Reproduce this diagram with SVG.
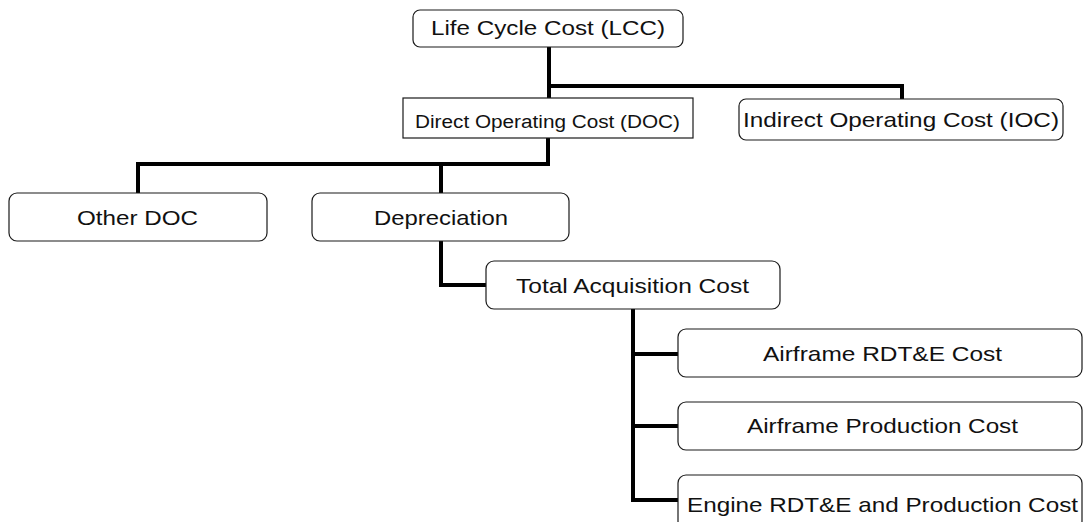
<svg xmlns="http://www.w3.org/2000/svg" width="1083" height="522" viewBox="0 0 1083 522">
  <style>
    .box { fill: #ffffff; stroke: #1a1a1a; stroke-width: 1.2; }
    .lbl { font-family: "Liberation Sans", Arial, sans-serif; font-size: 21px; fill: #111111; text-anchor: middle; }
    .small { font-size: 18px; }
    .wire { fill: none; stroke: #000000; stroke-width: 4; stroke-linejoin: miter; stroke-linecap: butt; }
  </style>
  <rect width="1083" height="522" fill="#ffffff"/>

  <!-- tree connectors -->
  <g id="connectors">
    <polyline class="wire" points="549,47 549,98"/>
    <polyline class="wire" points="549,86 902,86 902,99"/>
    <polyline class="wire" points="548,138 548,164 138,164 138,193"/>
    <polyline class="wire" points="441,164 441,193"/>
    <polyline class="wire" points="441,241 441,285 486,285"/>
    <polyline class="wire" points="633,309 633,500 678,500"/>
    <polyline class="wire" points="633,354 678,354"/>
    <polyline class="wire" points="633,426 678,426"/>
  </g>

  <g id="lcc">
    <rect class="box" x="413" y="10" width="270" height="37" rx="7"/>
    <text class="lbl" x="548" y="35" textLength="234" lengthAdjust="spacingAndGlyphs">Life Cycle Cost (LCC)</text>
  </g>

  <g id="doc">
    <rect class="box" x="403" y="98" width="290" height="40"/>
    <text class="lbl small" x="547.5" y="128" textLength="265" lengthAdjust="spacingAndGlyphs">Direct Operating Cost (DOC)</text>
  </g>

  <g id="ioc">
    <rect class="box" x="739" y="99" width="324" height="41" rx="7"/>
    <text class="lbl" x="901" y="127" textLength="316" lengthAdjust="spacingAndGlyphs">Indirect Operating Cost (IOC)</text>
  </g>

  <g id="other-doc">
    <rect class="box" x="9" y="193" width="258" height="48" rx="8"/>
    <text class="lbl" x="137.5" y="225" textLength="121" lengthAdjust="spacingAndGlyphs">Other DOC</text>
  </g>

  <g id="depreciation">
    <rect class="box" x="312" y="193" width="257" height="48" rx="8"/>
    <text class="lbl" x="441" y="225" textLength="134" lengthAdjust="spacingAndGlyphs">Depreciation</text>
  </g>

  <g id="total-acquisition">
    <rect class="box" x="486" y="261" width="294" height="48" rx="8"/>
    <text class="lbl" x="632.5" y="293" textLength="233" lengthAdjust="spacingAndGlyphs">Total Acquisition Cost</text>
  </g>

  <g id="airframe-rdte">
    <rect class="box" x="678" y="329" width="404" height="48" rx="8"/>
    <text class="lbl" x="882.5" y="361" textLength="239" lengthAdjust="spacingAndGlyphs">Airframe RDT&amp;E Cost</text>
  </g>

  <g id="airframe-production">
    <rect class="box" x="678" y="402" width="404" height="48" rx="8"/>
    <text class="lbl" x="882.5" y="433" textLength="271" lengthAdjust="spacingAndGlyphs">Airframe Production Cost</text>
  </g>

  <g id="engine">
    <rect class="box" x="678" y="475" width="404" height="54" rx="8"/>
    <text class="lbl" x="882.5" y="512" textLength="391" lengthAdjust="spacingAndGlyphs">Engine RDT&amp;E and Production Cost</text>
  </g>
</svg>
